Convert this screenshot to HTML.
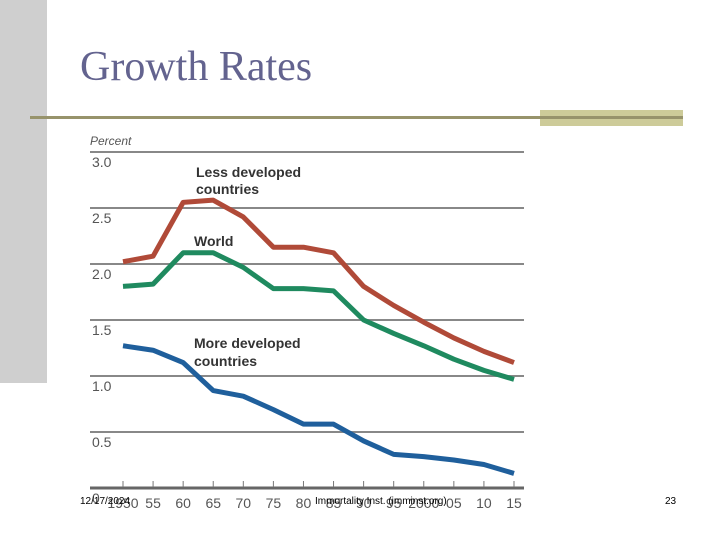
<!DOCTYPE html>
<html><head><meta charset="utf-8"><style>
body{margin:0;width:720px;height:540px;background:#fff;position:relative;overflow:hidden;font-family:"Liberation Sans",sans-serif}
.abs{position:absolute}
</style></head><body>
<div class="abs" style="left:0;top:0;width:47px;height:383px;background:#cfcfcf"></div>
<div class="abs" style="left:80px;top:43px;font-family:'Liberation Serif',serif;font-size:42px;color:#63638f">Growth Rates</div>
<div class="abs" style="left:540px;top:110px;width:143px;height:16px;background:#cdcb99"></div>
<div class="abs" style="left:30px;top:116px;width:653px;height:3px;background:#97936b"></div>
<svg class="abs" style="left:0;top:0" width="720" height="540">
<g id="grid"></g><g id="lines"></g><g id="labels"></g>
</svg>
<div class="abs" style="left:80px;top:496px;font-size:10px;color:#000">12/17/2024</div>
<div class="abs" style="left:315px;top:496px;font-size:10px;color:#000">Immortality Inst. (imminst.org)</div>
<div class="abs" style="left:665px;top:496px;font-size:10px;color:#000">23</div>
<script>
const years=[1950,1955,1960,1965,1970,1975,1980,1985,1990,1995,2000,2005,2010,2015];
const xTickLabels=["1950","55","60","65","70","75","80","85","90","95","2000","05","10","15"];
const yTicks=[0,0.5,1.0,1.5,2.0,2.5,3.0];
const lessDeveloped=[2.02,2.07,2.55,2.57,2.42,2.15,2.15,2.1,1.8,1.63,1.48,1.34,1.22,1.12];
const world=[1.8,1.82,2.1,2.1,1.97,1.78,1.78,1.76,1.5,1.38,1.27,1.15,1.05,0.97];
const moreDeveloped=[1.27,1.23,1.12,0.87,0.82,0.7,0.57,0.57,0.42,0.3,0.28,0.25,0.21,0.13];
const NS="http://www.w3.org/2000/svg";
const x=v=>123+(v-1950)*(514-123)/65;
const y=v=>488-v*(488-152)/3;
function mk(t,a,p){const e=document.createElementNS(NS,t);for(const k in a)e.setAttribute(k,a[k]);p.appendChild(e);return e;}
const grid=document.getElementById('grid'),lines=document.getElementById('lines'),labels=document.getElementById('labels');
yTicks.forEach(v=>{
 const l=mk('line',{x1:90,x2:524,y1:y(v),y2:y(v),stroke:v===0?'#666':'#888','stroke-width':v===0?3:2},grid);
 
 
 const t=mk('text',{x:92,y:y(v)+15,'font-size':14,fill:'#555','font-family':'Liberation Sans, sans-serif'},labels);
 t.textContent=v===0?'0':v.toFixed(1);
 
 
});
years.forEach((yr,i)=>{
 const tk=mk('line',{x1:x(yr),x2:x(yr),y1:481,y2:487,stroke:'#777','stroke-width':1},grid);
 
 
 const t=mk('text',{x:x(yr),y:508,'font-size':14,fill:'#555','text-anchor':'middle','font-family':'Liberation Sans, sans-serif'},labels);
 t.textContent=xTickLabels[i];
 
 
});
const pt=mk('text',{x:90,y:145,'font-size':12,'font-style':'italic',fill:'#555'},labels);pt.textContent='Percent';


[[lessDeveloped,'#b04a38','less-developed-line'],[world,'#1f8a5f','world-line'],[moreDeveloped,'#1f5f9c','more-developed-line']].forEach(([d,c,n])=>{
 const p=mk('polyline',{points:d.map((v,i)=>x(years[i])+','+y(v)).join(' '),fill:'none',stroke:c,'stroke-width':5,'stroke-linejoin':'round'},lines);
 
 
});
[['Less developed',196,177,'less-developed-label'],['countries',196,194,'less-developed-label-2'],['World',194,246,'world-label'],['More developed',194,348,'more-developed-label'],['countries',194,366,'more-developed-label-2']].forEach(([s,xx,yy,n])=>{
 const t=mk('text',{x:xx,y:yy,'font-size':14,'font-weight':'bold',fill:'#333'},labels);t.textContent=s;
 
 
});
</script>
</body></html>
